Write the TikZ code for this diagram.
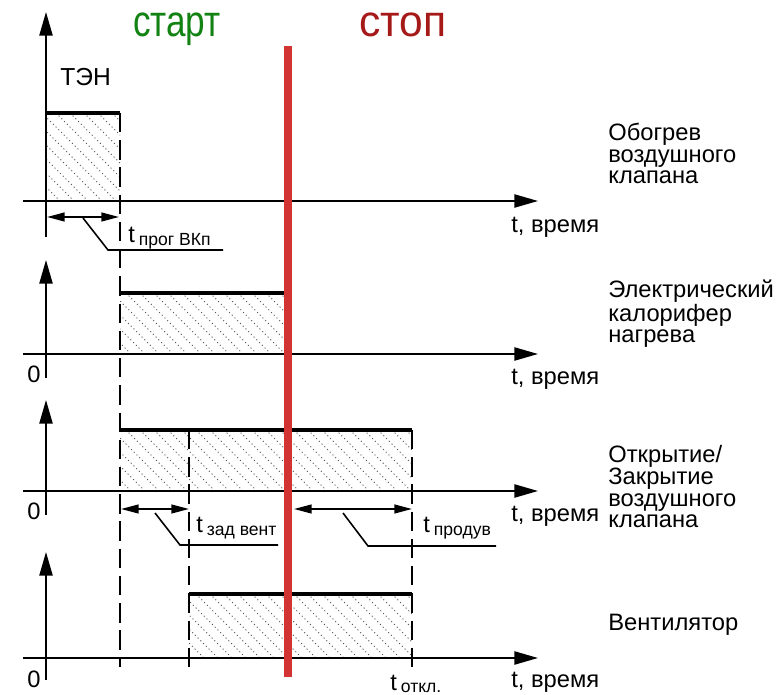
\documentclass[tikz,border=0pt]{standalone}
\usepackage{fontspec}
\setmainfont{Liberation Sans}
\newfontfamily\headfont[FakeStretch=0.8]{Liberation Sans}
\newfontfamily\stopfont[FakeStretch=0.97]{Liberation Sans}
\usetikzlibrary{arrows.meta}

\definecolor{startgreen}{RGB}{18,130,18}
\definecolor{stopred}{RGB}{165,25,25}
\definecolor{barred}{RGB}{210,52,52}

% subscripted time label
\newcommand{\tlabel}[1]{t\,\raisebox{-1.5pt}{\fontsize{10}{10}\selectfont #1}}

% dotted diagonal fill of one pulse
\newcommand{\hatchbox}[4]{%
  \begin{scope}
    \clip (#1,#2) rectangle (#3,#4);
    \foreach \s in {-70,-56,...,420}
      \draw[hatch] (\s,#2) -- ++(160,160);
  \end{scope}}

\begin{document}
\begin{tikzpicture}[x=0.02cm, y=-0.02cm,
    axis/.style={line width=1.1pt, -{Triangle[length=13.5pt,width=7.5pt]}},
    pulse/.style={line width=2.6pt},
    guide/.style={line width=1.1pt, dash pattern=on 11pt off 4.5pt},
    dim/.style={line width=1pt, {Triangle[length=10pt,width=5pt]}-{Triangle[length=10pt,width=5pt]}},
    leader/.style={line width=0.9pt},
    hatch/.style={line width=0.55pt, black!65, dash pattern=on 0.6pt off 1.6pt},
    lbl/.style={inner sep=0pt, anchor=base west, font=\fontsize{13.5}{12.5}\selectfont},
    side/.style={lbl, align=left},
    head/.style={inner sep=0pt, anchor=base, font=\headfont\fontsize{25}{25}\selectfont}]

    \useasboundingbox (0,0) rectangle (781,695);

    % Hatched pulses
    \hatchbox{46}{113}{120}{201}
    \hatchbox{120}{293}{288}{354}
    \hatchbox{120}{430}{412}{491}
    \hatchbox{189}{594}{412}{658}

    % Axes
    \foreach \i/\top/\bot/\row in {1/12/237/201, 2/260/378/354, 3/400/515/491, 4/552/680/658} {
        \coordinate (yb\i) at (46,\bot);
        \coordinate (yt\i) at (46,\top);
        \coordinate (xl\i) at (23,\row);
        \coordinate (xr\i) at (538,\row);
        \draw[axis] (yb\i) -- (yt\i);
        \draw[axis] (xl\i) -- (xr\i);
    }

    % Pulse tops
    \coordinate (p1a) at (46,113);  \coordinate (p1b) at (120,113);
    \coordinate (p2a) at (120,293); \coordinate (p2b) at (288,293);
    \coordinate (p3a) at (120,430); \coordinate (p3b) at (412,430);
    \coordinate (p4a) at (189,594); \coordinate (p4b) at (412,594);
    \draw[pulse] (p1a) -- (p1b);
    \draw[pulse] (p2a) -- (p2b);
    \draw[pulse] (p3a) -- (p3b);
    \draw[pulse] (p4a) -- (p4b);

    % Dashed time marks
    \coordinate (g1a) at (120,113); \coordinate (g1b) at (120,667);
    \coordinate (g2a) at (189,430); \coordinate (g2b) at (189,667);
    \coordinate (g3a) at (412,430); \coordinate (g3b) at (412,667);
    \draw[guide] (g1a) -- (g1b);
    \draw[guide] (g2a) -- (g2b);
    \draw[guide] (g3a) -- (g3b);

    % Stop line
    \coordinate (stopa) at (288,46); \coordinate (stopb) at (288,677);
    \draw[barred, line width=4.5pt] (stopa) -- (stopb);

    % Intervals with leaders
    \coordinate (d1a) at (47,217);  \coordinate (d1b) at (119,217);
    \coordinate (d2a) at (121,509); \coordinate (d2b) at (189,509);
    \coordinate (d3a) at (294,509); \coordinate (d3b) at (412,509);
    \draw[dim] (d1a) -- (d1b);
    \draw[dim] (d2a) -- (d2b);
    \draw[dim] (d3a) -- (d3b);
    \draw[leader] (83,218) -- (108,250) -- (223,250);
    \draw[leader] (155,513) -- (180,545) -- (278,545);
    \draw[leader] (343,513) -- (368,546) -- (496,546);

    % Texts
    \node[head, text=startgreen] (start) at (177,37) {старт};
    \node[head, text=stopred, font=\stopfont\fontsize{25}{25}\selectfont] (stop) at (403,37) {стоп};
    \node[lbl, font=\fontsize{14}{14}\selectfont] (ten) at (60,86) {ТЭН};

    \node[lbl] (tvk) at (128,243) {\tlabel{прог ВКп}};
    \node[lbl] (tvent) at (196,533) {\tlabel{зад вент}};
    \node[lbl] (tpurge) at (423,533) {\tlabel{продув}};
    \node[lbl] (toff) at (390,690) {\tlabel{откл.}};

    \node[lbl] (z2) at (27,383) {0};
    \node[lbl] (z3) at (27,520) {0};
    \node[lbl] (z4) at (27,687) {0};

    \node[lbl] (t1) at (511,233) {t, время};
    \node[lbl] (t2) at (511,385) {t, время};
    \node[lbl] (t3) at (511,522) {t, время};
    \node[lbl] (t4) at (511,687) {t, время};

    % side captions, anchored on the last line
    \node[side] (valve) at (608,184) {Обогрев\\воздушного\\клапана};
    \node[side] (heater) at (608,343) {Электрический\\калорифер\\нагрева};
    \node[side] (damper) at (608,528) {Открытие/\\Закрытие\\воздушного\\клапана};
    \node[side] (fan) at (608,630) {Вентилятор};

\end{tikzpicture}
\end{document}
